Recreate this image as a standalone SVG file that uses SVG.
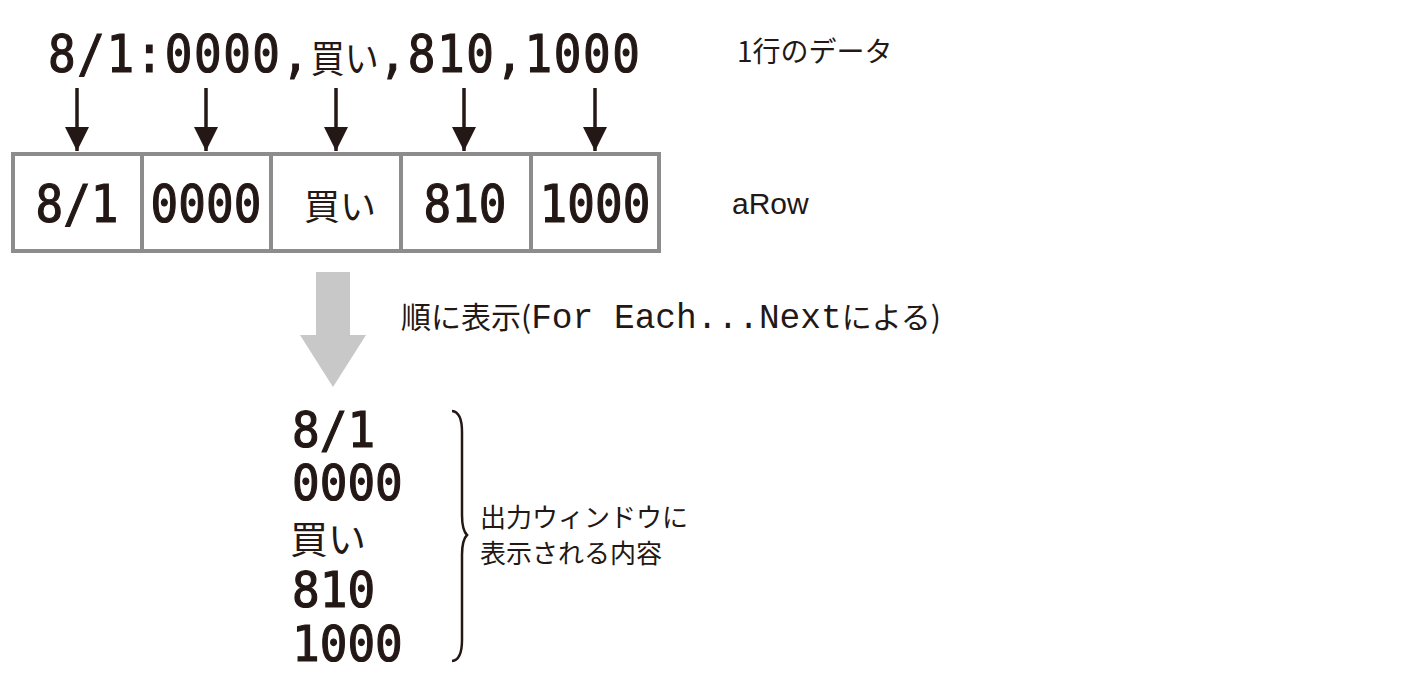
<svg xmlns="http://www.w3.org/2000/svg" width="1418" height="694" viewBox="0 0 1418 694">
<style>
.mono{font-family:"DejaVu Sans Mono","Liberation Mono",monospace;font-weight:normal;fill:#231815;stroke:#231815;stroke-width:1.1;font-size:46px}
.cj{font-family:"Noto Sans CJK JP",sans-serif;fill:#231815}
.lbl{font-family:"Noto Sans CJK JP",sans-serif;fill:#231815;font-size:27px}
.cell{fill:#fff;stroke:#8c8c8c;stroke-width:4}
.arr{stroke:#231815;stroke-width:3.5;fill:none}
</style>
<defs>
<marker id="ah" markerWidth="7" markerHeight="7" refX="6" refY="3" orient="auto" markerUnits="strokeWidth" viewBox="0 0 6 6">
<path d="M0,0 L6,3 L0,6 Z" fill="#231815"/>
</marker>
</defs>
<g id="source">
<text transform="translate(48,72) scale(1,1.12)"><tspan class="mono" letter-spacing="1.5">8/1:0000,</tspan><tspan class="cj" font-size="34">買い</tspan><tspan class="mono" letter-spacing="1.5">,810,1000</tspan></text>
</g>
<g id="label-row" class="lbl"><text x="737" y="62" font-size="28">1行のデータ</text></g>
<g id="connectors">
<line class="arr" x1="77" y1="88" x2="77" y2="151" marker-end="url(#ah)"/>
<line class="arr" x1="206" y1="88" x2="206" y2="151" marker-end="url(#ah)"/>
<line class="arr" x1="336" y1="88" x2="336" y2="151" marker-end="url(#ah)"/>
<line class="arr" x1="464" y1="88" x2="464" y2="151" marker-end="url(#ah)"/>
<line class="arr" x1="595" y1="88" x2="595" y2="151" marker-end="url(#ah)"/>
<path d="M316,272 H350 V335 H366 L333,387 L300,335 H316 Z" fill="#c8c8c8"/>
</g>
<g id="arow">
<rect class="cell" x="13" y="154" width="129" height="97"/>
<rect class="cell" x="142" y="154" width="129" height="97"/>
<rect class="cell" x="271" y="154" width="130" height="97"/>
<rect class="cell" x="401" y="154" width="130" height="97"/>
<rect class="cell" x="531" y="154" width="128" height="97"/>
<text class="mono" text-anchor="middle" transform="translate(77,222) scale(1,1.12)">8/1</text>
<text class="mono" text-anchor="middle" transform="translate(206,222) scale(1,1.12)">0000</text>
<text class="cj" font-size="36" text-anchor="middle" x="340" y="220">買い</text>
<text class="mono" text-anchor="middle" transform="translate(465,222) scale(1,1.12)">810</text>
<text class="mono" text-anchor="middle" transform="translate(595,222) scale(1,1.12)">1000</text>
</g>
<g id="label-arow"><text x="732" y="214" font-size="30" fill="#231815" font-family="Liberation Sans, sans-serif">aRow</text></g>
<g id="label-loop"><text x="401" y="328" font-size="30"><tspan class="cj">順に表示(</tspan><tspan font-family="Liberation Mono, monospace" font-size="34.5" fill="#231815">For Each...Next</tspan><tspan class="cj">による)</tspan></text></g>
<g id="output">
<text class="mono" transform="translate(292,447) scale(1,1.1)">8/1</text>
<text class="mono" transform="translate(292,500) scale(1,1.1)">0000</text>
<text class="cj" font-size="38" x="290" y="553">買い</text>
<text class="mono" transform="translate(292,607) scale(1,1.1)">810</text>
<text class="mono" transform="translate(292,661) scale(1,1.1)">1000</text>
<path d="M452,411 Q462,412 462,432 L462,515 Q462,530 467,535 Q462,540 462,555 L462,640 Q462,660 452,661" fill="none" stroke="#231815" stroke-width="2.5"/>
</g>
<g id="label-output" class="lbl">
<text x="480" y="527" font-size="26">出力ウィンドウに</text>
<text x="480" y="563" font-size="26">表示される内容</text>
</g>
</svg>
